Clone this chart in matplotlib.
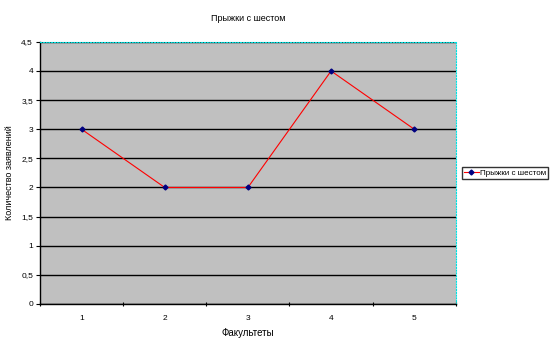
import matplotlib
matplotlib.use("Agg")
import matplotlib.pyplot as plt

plt.rcParams['font.family'] = ['Liberation Sans', 'DejaVu Sans']

# data
faculties = [1, 2, 3, 4, 5]
counts = [3, 2, 2, 4, 3]
series_name = "Прыжки с шестом"

fig = plt.figure(figsize=(5.53, 3.44), dpi=100)
ax = fig.add_axes([0.0723, 0.1163, 0.752, 0.762])
ax.set_facecolor("#c0c0c0")

ax.plot(faculties, counts, color="red", linewidth=0.8, marker="D",
        markersize=2.5, markerfacecolor="#000080", markeredgecolor="#000080",
        label=series_name, zorder=3)

ax.set_xlim(0.5, 5.5)
ax.set_ylim(0, 4.5)
ax.set_yticks([i * 0.5 for i in range(10)])
ax.set_yticklabels(["0", "0,5", "1", "1,5", "2", "2,5", "3", "3,5", "4", "4,5"])
ax.set_xticks([i + 0.5 for i in range(6)])
ax.set_xticklabels([])
ax.set_xticks(faculties, minor=True)
ax.set_xticklabels([str(f) for f in faculties], minor=True)
ax.tick_params(axis="x", which="minor", length=0, pad=8, labelsize=6)
ax.tick_params(axis="x", which="major", length=3, direction="inout", width=0.8)
ax.tick_params(axis="y", length=3, width=0.8, labelsize=6, pad=2)

ax.yaxis.grid(True, color="black", linewidth=1)
ax.set_axisbelow(True)

for side in ("top", "right"):
    ax.spines[side].set_color("#00e0e0")
    ax.spines[side].set_linestyle((0, (1, 1.5)))
    ax.spines[side].set_linewidth(0.8)
ax.spines["left"].set_linewidth(1)
ax.spines["bottom"].set_linewidth(1)

ax.set_title("Прыжки с шестом", fontsize=6.5, pad=15)
ax.set_xlabel("Факультеты", fontsize=7, labelpad=4)
ax.set_ylabel("Количество заявлений", fontsize=6.5, labelpad=5)

leg = ax.legend(loc="center left", bbox_to_anchor=(1.015, 0.5), fontsize=5.8,
                frameon=True, fancybox=False, borderpad=0.25, handlelength=1.8,
                handletextpad=0.2, borderaxespad=0)
leg.get_frame().set_edgecolor("black")
leg.get_frame().set_linewidth(1)

fig.savefig("out.png", dpi=100)
